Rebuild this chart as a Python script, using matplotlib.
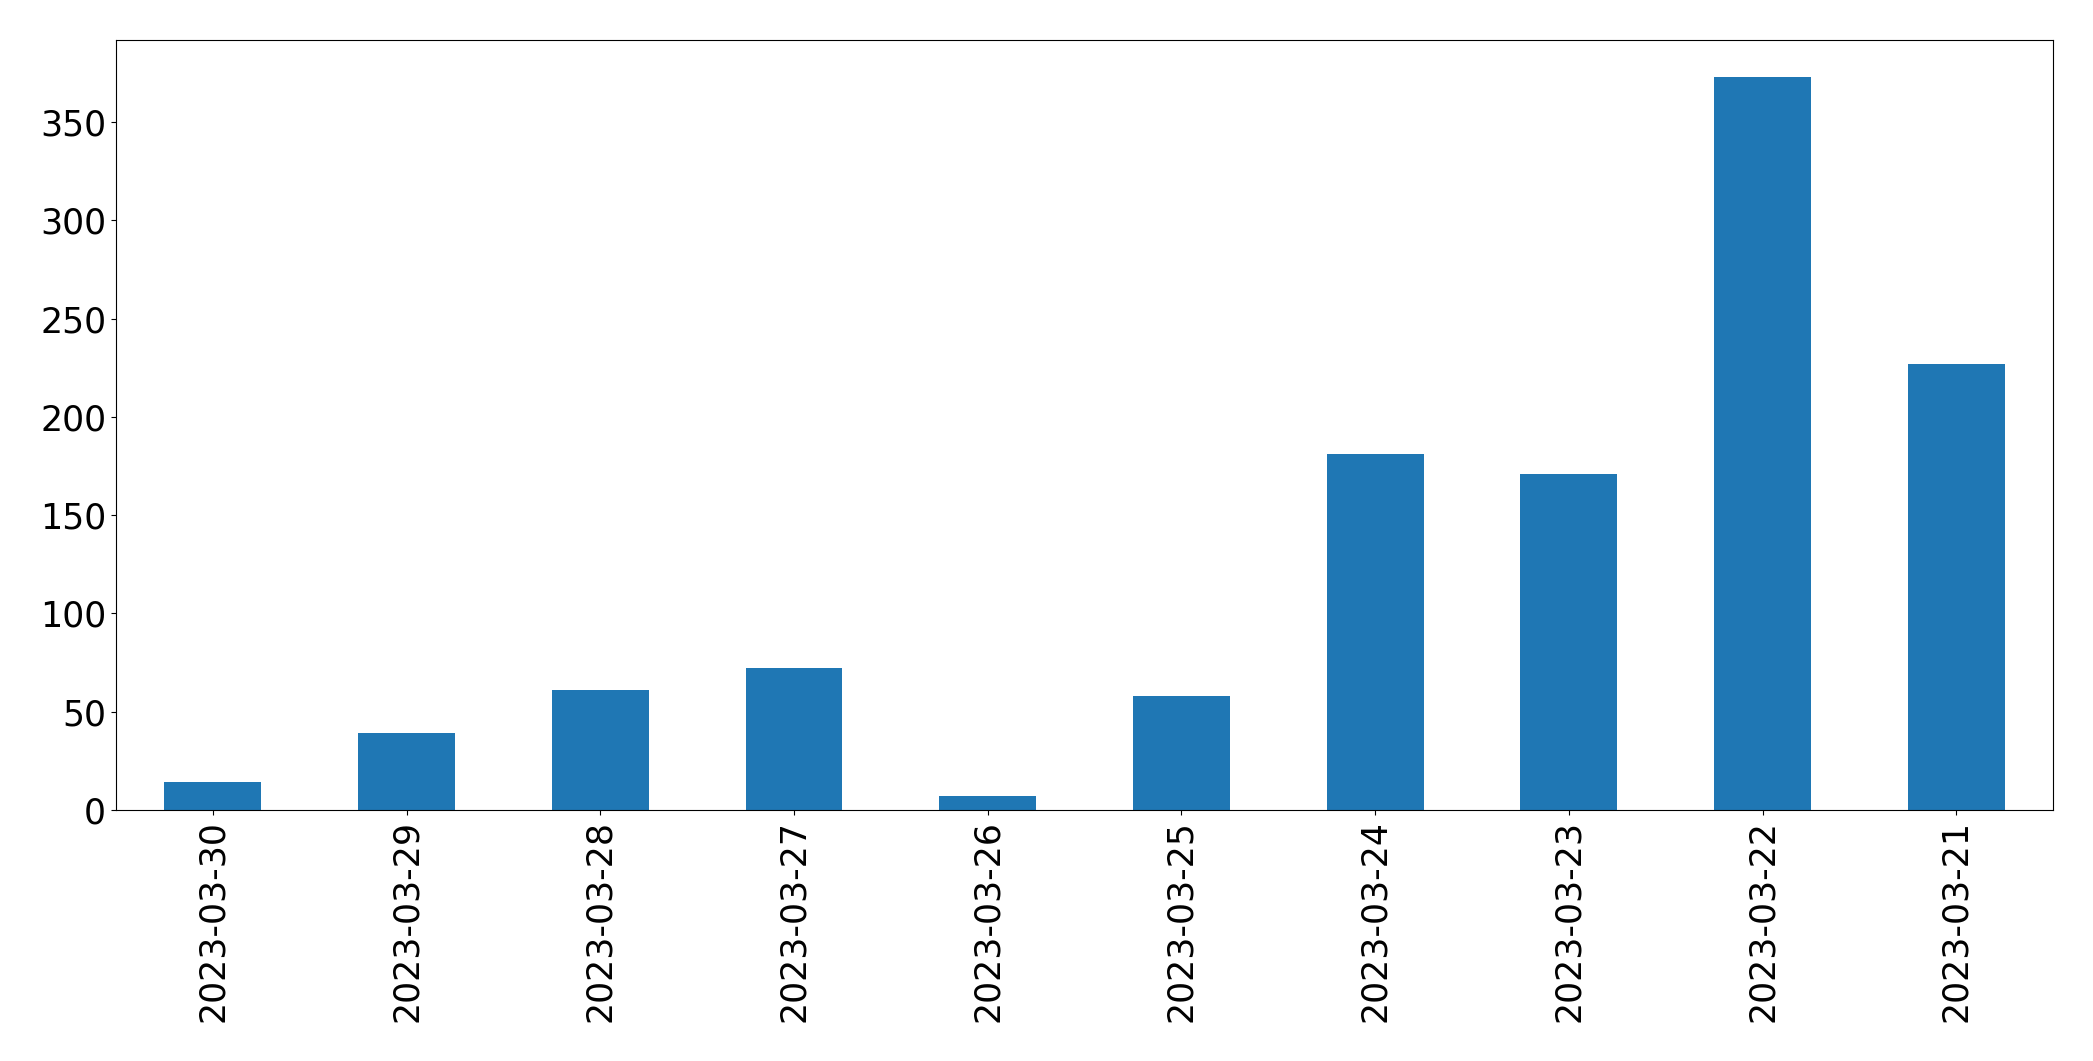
import matplotlib
matplotlib.use("Agg")
import matplotlib.pyplot as plt
import pandas as pd

# daily counts, newest first (as in the original plot)
dates = ["2023-03-30", "2023-03-29", "2023-03-28", "2023-03-27", "2023-03-26",
         "2023-03-25", "2023-03-24", "2023-03-23", "2023-03-22", "2023-03-21"]
counts = [14, 39, 61, 72, 7, 58, 181, 171, 373, 227]

series = pd.Series(counts, index=dates)

fig = plt.figure(figsize=(20.93, 10.61), dpi=100)
ax = fig.add_subplot(111)
series.plot(kind="bar", ax=ax, color="#1f77b4")
ax.tick_params(axis="both", labelsize=25)
fig.subplots_adjust(left=0.0554, right=0.981, top=0.962, bottom=0.2366)

fig.savefig("out.png", dpi=100)
